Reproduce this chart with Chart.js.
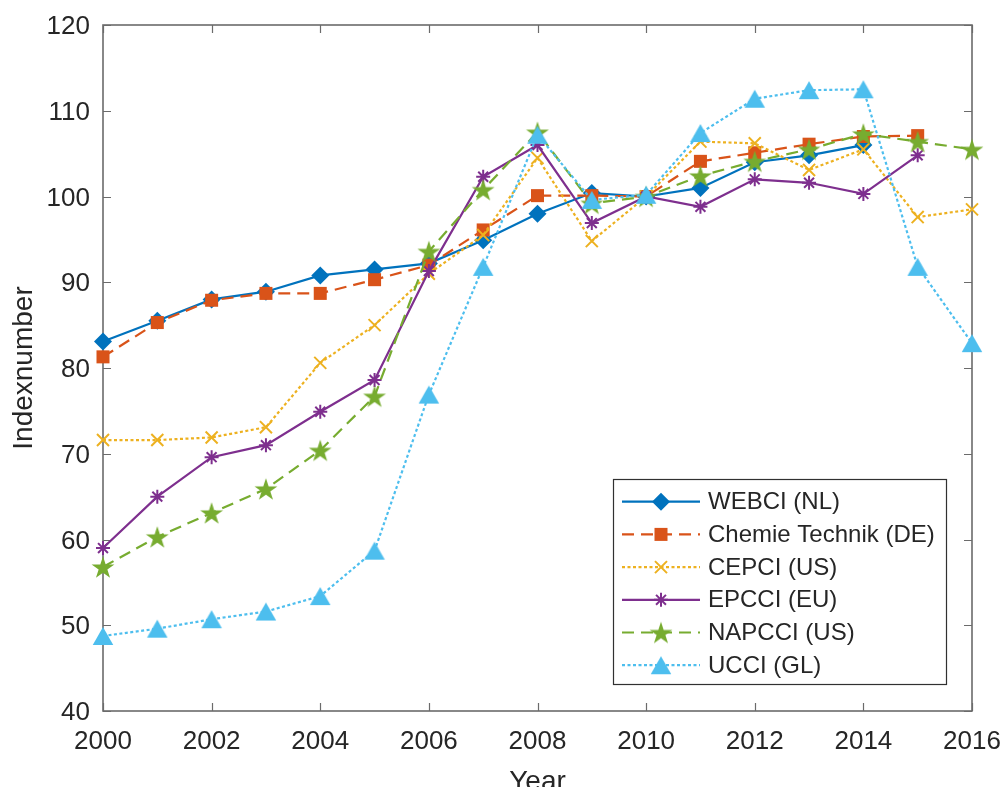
<!DOCTYPE html>
<html>
<head>
<meta charset="utf-8">
<title>Cost index comparison</title>
<script src="https://cdn.jsdelivr.net/npm/chart.js@4.4.0/dist/chart.umd.min.js"></script>
<style>
    html, body { margin: 0; padding: 0; background: #fff; overflow: hidden; }
    canvas { display: block; }
</style>
</head>
<body>
<canvas id="chart" width="1003" height="787"></canvas>
<script>
// ===== Data =====
const years = [2000, 2001, 2002, 2003, 2004, 2005, 2006, 2007, 2008, 2009, 2010, 2011, 2012, 2013, 2014, 2015, 2016];
const seriesNames = ['WEBCI (NL)', 'Chemie Technik (DE)', 'CEPCI (US)', 'EPCCI (EU)', 'NAPCCI (US)', 'UCCI (GL)'];

const webci  = [83.1, 85.5, 88.0, 88.9, 90.8, 91.5, 92.2, 94.9, 98.0, 100.4, 100, 101.0, 104.0, 104.8, 106.0, null, null];
const chemie = [81.3, 85.3, 87.9, 88.7, 88.7, 90.3, 92.0, 96.1, 100.1, 100.1, 100, 104.1, 105.1, 106.1, 107.0, 107.1, null];
const cepci  = [71.6, 71.6, 71.9, 73.1, 80.6, 85.0, 91.0, 95.5, 104.5, 94.8, 100, 106.4, 106.2, 103.1, 105.5, 97.6, 98.5];
const epcci  = [59.0, 65.0, 69.6, 71.0, 74.9, 78.6, 91.3, 102.3, 106.0, 96.9, 100, 98.8, 102.0, 101.6, 100.3, 104.8, null];
const napcci = [56.8, 60.3, 63.1, 65.9, 70.4, 76.7, 93.6, 100.8, 107.5, 99.2, 100, 102.4, 104.1, 105.5, 107.3, 106.4, 105.5];
const ucci   = [48.75, 49.6, 50.7, 51.6, 53.4, 58.7, 76.9, 91.8, 107.2, 99.6, 100.2, 107.4, 111.4, 112.4, 112.5, 91.8, 82.9];

const xTicks = [2000, 2002, 2004, 2006, 2008, 2010, 2012, 2014, 2016];
const yTicks = [40, 50, 60, 70, 80, 90, 100, 110, 120];

// ===== Styling =====
const FONT = '"Liberation Sans", Arial, Helvetica, sans-serif';
const TEXT = '#262626';
const AXIS = '#6b6b6b';
const DASH = [12, 7];
const DOT = [3, 2.5];

// marker images for shapes chart.js doesn't have (pentagram) or centres differently (triangle)
function makeMarker(w, h, color, draw) {
    const c = document.createElement('canvas');
    c.width = w; c.height = h;
    const g = c.getContext('2d');
    g.fillStyle = color;
    draw(g, w, h);
    return c;
}

const pentagram = makeMarker(26, 26, '#77AC30', (g, w, h) => {
    const R = 12, r = R * 0.382, cx = w / 2, cy = h / 2 + 0.095 * R;
    g.beginPath();
    for (let i = 0; i < 10; i++) {
        const a = -Math.PI / 2 + i * Math.PI / 5;
        const rad = i % 2 ? r : R;
        g.lineTo(cx + rad * Math.cos(a), cy + rad * Math.sin(a));
    }
    g.closePath();
    g.fill();
});

const triangle = makeMarker(22, 22, '#4DBEEE', (g, w, h) => {
    const side = 20.5, th = side * Math.sqrt(3) / 2;
    g.beginPath();
    g.moveTo(w / 2, h / 2 - th / 2);
    g.lineTo(w / 2 + side / 2, h / 2 + th / 2);
    g.lineTo(w / 2 - side / 2, h / 2 + th / 2);
    g.closePath();
    g.fill();
});

function series(i, data, color, dash, pointStyle, radius, pointBorder, order) {
    return {
        label: seriesNames[i],
        data: years.map((y, k) => ({ x: y, y: data[k] })),
        borderColor: color,
        backgroundColor: color,
        borderWidth: 2.2,
        borderDash: dash,
        pointStyle: pointStyle,
        pointRadius: radius,
        pointBackgroundColor: color,
        pointBorderColor: color,
        pointBorderWidth: pointBorder,
        tension: 0,
        spanGaps: false,
        clip: false,
        order: order
    };
}

const datasets = [
    series(0, webci,  '#0072BD', [],   'rectRot',  9,   0, 6),
    series(1, chemie, '#D95319', DASH, 'rect',     9.2, 0, 5),
    series(2, cepci,  '#EDB120', DOT,  'crossRot', 8.5, 2, 4),
    series(3, epcci,  '#7E2F8E', [],   'star',     7,   2, 3),
    series(4, napcci, '#77AC30', DASH, pentagram,  10,  0, 2),
    series(5, ucci,   '#4DBEEE', DOT,  triangle,   10,  0, 1)
];

function drawMarker(ctx, ds, x, y) {
    ctx.save();
    ctx.fillStyle = ds.pointBackgroundColor;
    ctx.strokeStyle = ds.pointBorderColor;
    ctx.lineWidth = ds.pointBorderWidth;
    ctx.setLineDash([]);
    if (ds.pointStyle instanceof HTMLCanvasElement) {
        const img = ds.pointStyle;
        ctx.drawImage(img, x - img.width / 2, y - img.height / 2);
    } else {
        Chart.helpers.drawPoint(ctx, {
            pointStyle: ds.pointStyle, radius: ds.pointRadius,
            borderWidth: ds.pointBorderWidth, rotation: 0
        }, x, y);
    }
    ctx.restore();
}

// box with inward ticks, axis titles, legend
const frame = {
    id: 'frame',
    beforeDatasetsDraw(chart) {
        const { ctx, chartArea: a, scales } = chart;
        const tl = 8;
        ctx.save();
        ctx.strokeStyle = AXIS;
        ctx.lineWidth = 1.6;
        ctx.strokeRect(a.left, a.top, a.right - a.left, a.bottom - a.top);
        ctx.beginPath();
        xTicks.forEach(v => {
            const x = Math.round(scales.x.getPixelForValue(v)) + 0.5;
            ctx.moveTo(x, a.bottom); ctx.lineTo(x, a.bottom - tl);
            ctx.moveTo(x, a.top); ctx.lineTo(x, a.top + tl);
        });
        yTicks.forEach(v => {
            const y = Math.round(scales.y.getPixelForValue(v)) + 0.5;
            ctx.moveTo(a.left, y); ctx.lineTo(a.left + tl, y);
            ctx.moveTo(a.right, y); ctx.lineTo(a.right - tl, y);
        });
        ctx.lineWidth = 1.2;
        ctx.stroke();
        ctx.restore();
    },
    afterDraw(chart) {
        const { ctx, chartArea: a } = chart;
        ctx.save();
        ctx.fillStyle = TEXT;
        ctx.font = '28px ' + FONT;
        ctx.textAlign = 'center';
        ctx.textBaseline = 'alphabetic';
        ctx.fillText('Year', (a.left + a.right) / 2, 790);
        ctx.translate(32, (a.top + a.bottom) / 2);
        ctx.rotate(-Math.PI / 2);
        ctx.fillText('Indexnumber', 0, 0);
        ctx.restore();

        // legend
        const box = { x: 613, y: 479, w: 333, h: 205 };
        ctx.save();
        ctx.fillStyle = '#fff';
        ctx.fillRect(box.x, box.y, box.w, box.h);
        ctx.strokeStyle = '#303030';
        ctx.lineWidth = 1.2;
        ctx.strokeRect(box.x + 0.5, box.y + 0.5, box.w, box.h);
        chart.data.datasets.forEach((ds, i) => {
            const y = 501.7 + i * 32.7;
            ctx.beginPath();
            ctx.strokeStyle = ds.borderColor;
            ctx.lineWidth = ds.borderWidth;
            ctx.setLineDash(ds.borderDash);
            ctx.moveTo(622, y); ctx.lineTo(700, y);
            ctx.stroke();
            ctx.setLineDash([]);
            drawMarker(ctx, ds, 661, y);
            ctx.fillStyle = TEXT;
            ctx.font = '24px ' + FONT;
            ctx.textAlign = 'left';
            ctx.textBaseline = 'middle';
            ctx.fillText(ds.label, 708, y + 1);
        });
        ctx.restore();
    }
};

// fixed axis sizes; drop the label overhang padding so the plot box lands where the reference has it
function fixSize(prop, size) {
    return s => {
        s[prop] = size;
        s.paddingLeft = s.paddingRight = s.paddingTop = s.paddingBottom = 0;
    };
}

new Chart(document.getElementById('chart'), {
    type: 'line',
    data: { datasets },
    options: {
        responsive: false,
        animation: false,
        events: [],
        devicePixelRatio: 1,
        layout: { autoPadding: false, padding: { top: 25, right: 31, bottom: 0, left: 0 } },
        plugins: { legend: { display: false }, tooltip: { enabled: false } },
        scales: {
            x: {
                type: 'linear', min: 2000, max: 2016,
                afterBuildTicks: s => { s.ticks = xTicks.map(v => ({ value: v })); },
                afterFit: fixSize('height', 76),
                grid: { display: false, drawTicks: false },
                border: { display: false },
                ticks: { color: TEXT, font: { family: FONT, size: 26 }, padding: 15, maxRotation: 0,
                    callback: v => String(v) }
            },
            y: {
                min: 40, max: 120,
                afterBuildTicks: s => { s.ticks = yTicks.map(v => ({ value: v })); },
                afterFit: fixSize('width', 103),
                grid: { display: false, drawTicks: false },
                border: { display: false },
                ticks: { color: TEXT, font: { family: FONT, size: 26 }, padding: 13, labelOffset: 2,
                    callback: v => String(v) }
            }
        }
    },
    plugins: [frame]
});
</script>
</body>
</html>
